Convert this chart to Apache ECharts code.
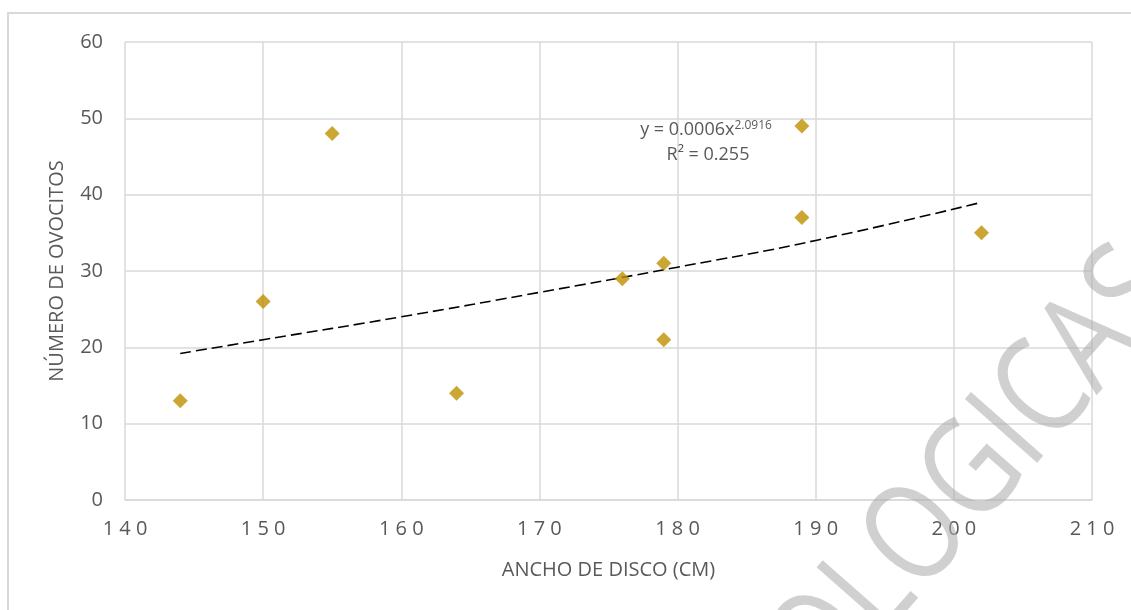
<!DOCTYPE html>
<html>
<head>
<meta charset="utf-8">
<script src="https://cdn.jsdelivr.net/npm/echarts@6/dist/echarts.min.js"></script>
<style>
  html, body { margin: 0; padding: 0; background: #fff; }
  #chart { width: 1131px; height: 610px; }
</style>
</head>
<body>
<div id="chart"></div>
<script>
// disc width (cm) vs. number of oocytes
const anchoDisco = [144, 150, 155, 164, 176, 179, 179, 189, 189, 202];
const numOvocitos = [13, 26, 48, 14, 29, 31, 21, 49, 37, 35];

// power trendline as drawn in the picture
const trendX = [144, 150, 160, 170, 180, 190, 202];
const trendY = [19.2, 21, 24, 27.2, 30.5, 34, 39];

const textColor = "#595959";
const gridColor = "#d9d9d9";

const chart = echarts.init(document.getElementById("chart"), null, { renderer: "canvas" });

chart.setOption({
  backgroundColor: "#fff",
  animation: false,
  grid: { left: 125, right: 39, top: 42, bottom: 110, containLabel: false },
  xAxis: {
    type: "value",
    min: 140,
    max: 210,
    interval: 10,
    name: "ANCHO DE DISCO (CM)",
    nameLocation: "middle",
    nameGap: 60,
    nameTextStyle: { color: textColor, fontSize: 20, fontFamily: "Open Sans" },
    axisLine: { show: true, lineStyle: { color: gridColor, width: 1.5 } },
    axisTick: { show: false },
    axisLabel: {
      color: textColor,
      fontSize: 20,
      fontFamily: "Open Sans",
      margin: 19,
      formatter: v => String(v).split("").join(" ")
    },
    splitLine: { show: true, lineStyle: { color: gridColor, width: 1.5 } }
  },
  yAxis: {
    type: "value",
    min: 0,
    max: 60,
    interval: 10,
    name: "NÚMERO DE OVOCITOS",
    nameLocation: "middle",
    nameGap: 58,
    nameTextStyle: { color: textColor, fontSize: 20, fontFamily: "Open Sans" },
    axisLine: { show: false },
    axisTick: { show: false },
    axisLabel: { color: textColor, fontSize: 20, fontFamily: "Open Sans", margin: 22 },
    splitLine: { show: true, lineStyle: { color: gridColor, width: 1.5 } }
  },
  series: [
    {
      type: "line",
      data: trendX.map((x, i) => [x, trendY[i]]),
      smooth: true,
      symbol: "none",
      lineStyle: { color: "#000", width: 1.6, type: [11, 5] },
      z: 2
    },
    {
      type: "scatter",
      data: anchoDisco.map((x, i) => [x, numOvocitos[i]]),
      symbol: "diamond",
      symbolSize: 15,
      itemStyle: { color: "#BF9000" },
      z: 3
    }
  ],
  graphic: [
    {
      type: "rect",
      shape: { x: 8, y: 13, width: 1140, height: 620 },
      style: { fill: "none", stroke: gridColor, lineWidth: 2 },
      silent: true
    },
    {
      type: "text",
      x: 706,
      y: 130,
      style: {
        text: "y = 0.0006x{sup|2.0916}",
        fill: textColor,
        font: '18px "Open Sans"',
        align: "center",
        verticalAlign: "middle",
        rich: {
          sup: { fontSize: 12, fill: textColor, fontFamily: "Open Sans", verticalAlign: "top", padding: [0, 0, 9, 0] }
        }
      },
      z: 10
    },
    {
      type: "text",
      x: 708,
      y: 155,
      style: {
        text: "R² = 0.255",
        fill: textColor,
        font: '18px "Open Sans"',
        align: "center",
        verticalAlign: "middle"
      },
      z: 10
    },
    {
      // watermark
      type: "text",
      x: 975,
      y: 475,
      rotation: Math.PI * 0.27,
      scaleX: 0.82,
      style: {
        text: "OLOGICAS",
        fill: "rgba(170,170,170,0.55)",
        font: '500 135px "Open Sans"',
        align: "center",
        verticalAlign: "middle"
      },
      silent: true,
      z: 20
    }
  ]
});
</script>
</body>
</html>
